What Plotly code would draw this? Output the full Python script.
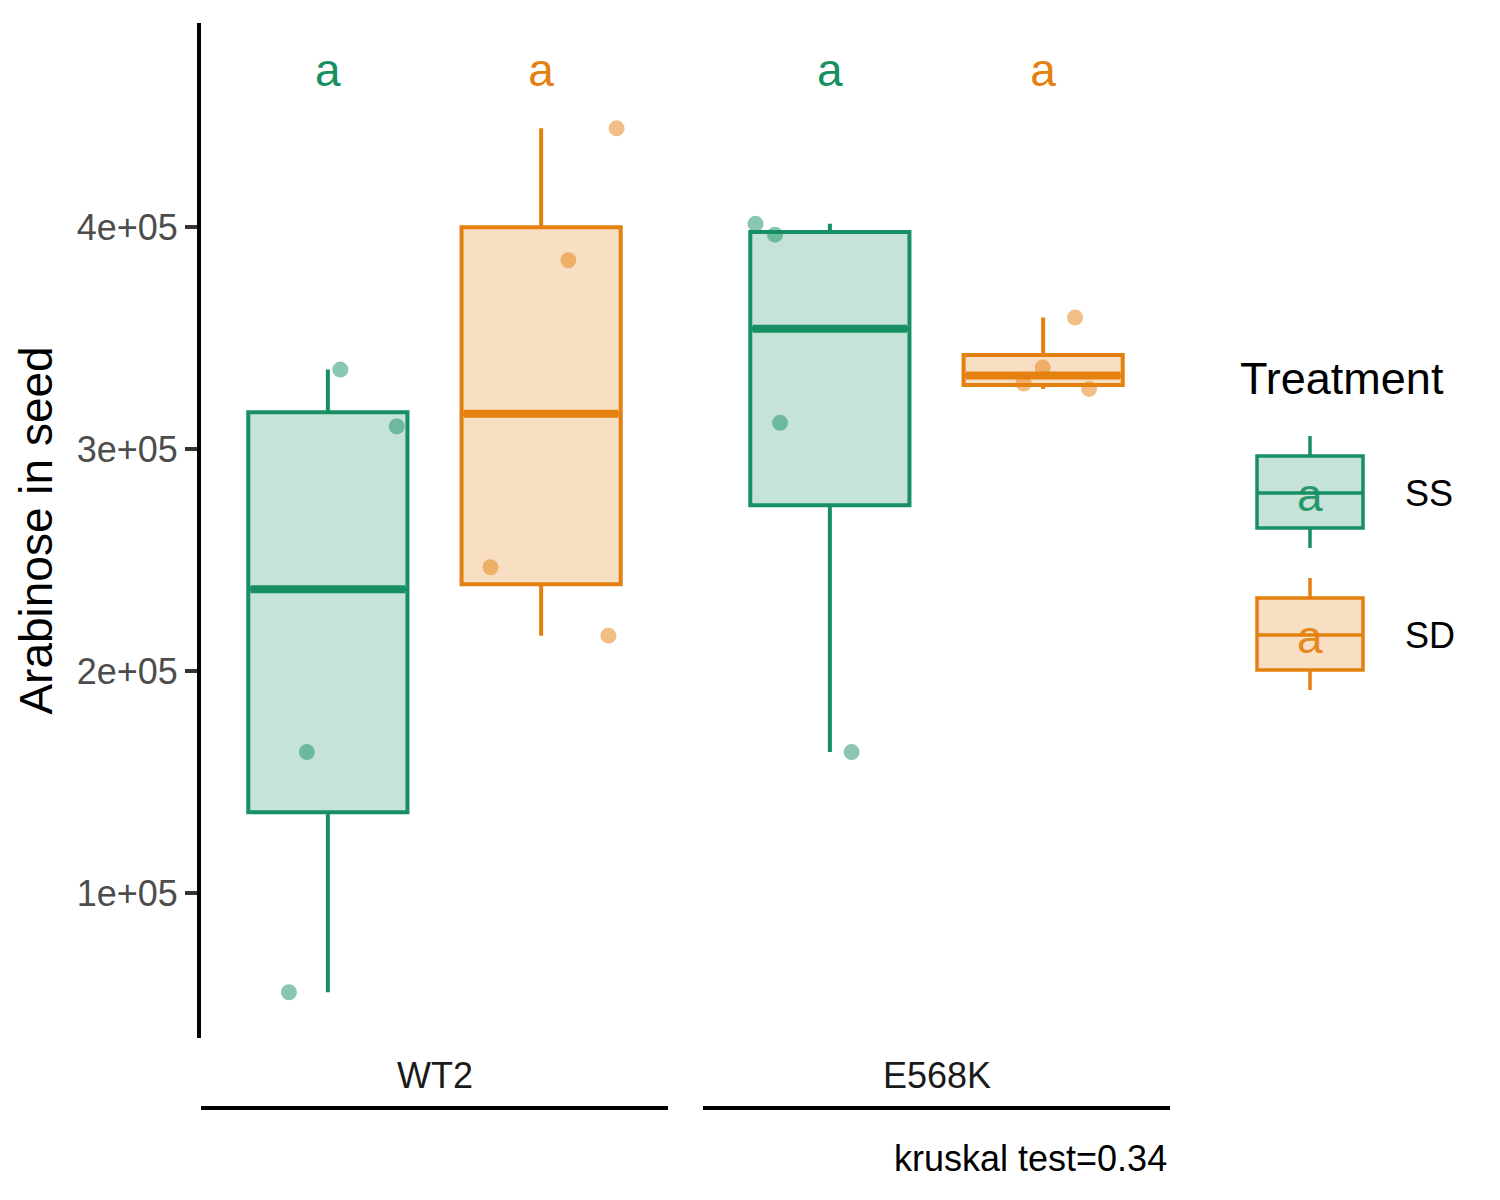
## Boxplot de arabinosa por genotipo y tratamiento (estilo ggplot con facetas abajo)
import numpy as np
import plotly.graph_objects as go

## Datos
genotypes = ["WT2", "E568K"]
treatments = ["SS", "SD"]

wt2_ss = [335800, 310200, 163600, 55500]
wt2_sd = [444400, 385000, 246800, 216000]
e568k_ss = [401400, 396500, 311800, 163600]
e568k_sd = [359200, 336700, 329500, 327100]

# desplazamiento horizontal (jitter) de cada punto, en unidades del eje x
wt2_ss_jit = [0.032, 0.177, -0.054, -0.100]
wt2_sd_jit = [0.194, 0.070, -0.130, 0.173]
e568k_ss_jit = [-0.191, -0.141, -0.128, 0.056]
e568k_sd_jit = [0.082, -0.001, -0.050, 0.118]

letters_wt2 = ["a", "a"]
letters_e568k = ["a", "a"]
letter_y = 468500

y_tickvals = [100000, 200000, 300000, 400000]
y_ticktext = ["1e+05", "2e+05", "3e+05", "4e+05"]
y_title = "Arabinose in seed"
legend_title = "Treatment"
caption = "kruskal test=0.34"

## Estilo
FONT = "Arial, Liberation Sans, sans-serif"
colors = {"SS": "#168F62", "SD": "#E3800E"}
fills = {"SS": "rgba(22,143,98,0.25)", "SD": "rgba(227,128,14,0.25)"}
dodge = {"SS": -0.274, "SD": 0.274}
box_w = 0.409

# la pagina html deja 8px de margen alrededor de la figura
OFF = 8
# geometria en pixeles del area de graficos (para las formas de leyenda / tiras)
L, R, T, B = 201 - OFF, 1170 - OFF, 23 - OFF, 1038 - OFF
W, H = R - L, B - T


def px_x(px):
    return (px - OFF - L) / W


def px_y(py):
    return (B - (py - OFF)) / H


def stats(v):
    v = np.array(v, dtype=float)
    q1, med, q3 = np.percentile(v, [25, 50, 75])
    iqr = q3 - q1
    lo = v[v >= q1 - 1.5 * iqr].min()
    hi = v[v <= q3 + 1.5 * iqr].max()
    return q1, med, q3, lo, hi


fig = go.Figure()

panels = [
    ("x", "y", {"SS": (wt2_ss, wt2_ss_jit), "SD": (wt2_sd, wt2_sd_jit)}, letters_wt2),
    ("x2", "y2", {"SS": (e568k_ss, e568k_ss_jit), "SD": (e568k_sd, e568k_sd_jit)}, letters_e568k),
]

for xa, ya, groups, letters in panels:
    for i, tr in enumerate(treatments):
        vals, jit = groups[tr]
        q1, med, q3, lo, hi = stats(vals)
        pos = dodge[tr]
        fig.add_trace(go.Box(
            x=[pos], q1=[q1], median=[med], q3=[q3],
            lowerfence=[lo], upperfence=[hi],
            width=box_w, whiskerwidth=0,
            line=dict(color=colors[tr], width=4),
            fillcolor=fills[tr], boxpoints=False,
            xaxis=xa, yaxis=ya, showlegend=False, hoverinfo="skip",
        ))
        # linea de mediana mas gruesa (como ggplot)
        fig.add_trace(go.Scatter(
            x=[pos - box_w / 2 + 0.006, pos + box_w / 2 - 0.006], y=[med, med],
            mode="lines", line=dict(color=colors[tr], width=8),
            xaxis=xa, yaxis=ya, showlegend=False, hoverinfo="skip",
        ))
        # puntos con jitter
        fig.add_trace(go.Scatter(
            x=[pos + j for j in jit], y=vals, mode="markers",
            marker=dict(color=colors[tr], size=16, opacity=0.5, line=dict(width=0)),
            xaxis=xa, yaxis=ya, showlegend=False,
        ))
        # letras de significancia
        fig.add_trace(go.Scatter(
            x=[pos], y=[letter_y], mode="text", text=[letters[i]],
            textposition="middle center",
            textfont=dict(family=FONT, size=46, color=colors[tr]),
            xaxis=xa, yaxis=ya, showlegend=False, hoverinfo="skip",
        ))

## Ejes
xstyle = dict(range=[-0.6, 0.6], visible=False, showgrid=False, zeroline=False)
fig.update_layout(
    xaxis=dict(domain=[0, px_x(668)], **xstyle),
    xaxis2=dict(domain=[px_x(703), 1], anchor="y2", **xstyle),
    yaxis=dict(
        range=[34900, 491800], showgrid=False, zeroline=False,
        showline=True, linewidth=4, linecolor="black",
        ticks="outside", ticklen=12, tickwidth=4, tickcolor="#333333",
        tickvals=y_tickvals, ticktext=y_ticktext, ticklabelstandoff=0,
        tickfont=dict(family=FONT, size=36, color="#4D4D4D"),
        title=dict(text=y_title, font=dict(family=FONT, size=46, color="black"), standoff=11),
    ),
    yaxis2=dict(matches="y", anchor="x2", visible=False, showgrid=False, zeroline=False),
)

## Tiras de facetas abajo (etiqueta + linea)
annotations = []
shapes = []
for xa, name in zip(["x", "x2"], genotypes):
    annotations.append(dict(
        text=name, xref=f"{xa} domain", yref="paper", x=0.5, y=px_y(1075),
        xanchor="center", yanchor="middle", showarrow=False,
        font=dict(family=FONT, size=36, color="#1A1A1A"),
    ))
    shapes.append(dict(
        type="line", xref=f"{xa} domain", yref="paper", x0=0, x1=1,
        y0=px_y(1108), y1=px_y(1108), line=dict(color="black", width=4),
    ))

annotations.append(dict(
    text=caption, xref="paper", yref="paper", x=px_x(1169), y=px_y(1158),
    xanchor="right", yanchor="middle", showarrow=False,
    font=dict(family=FONT, size=36, color="black"),
))

## Leyenda dibujada a mano (claves tipo caja con "a")
annotations.append(dict(
    text=legend_title, xref="paper", yref="paper", x=px_x(1238), y=px_y(379),
    xanchor="left", yanchor="middle", showarrow=False,
    font=dict(family=FONT, size=45, color="black"),
))
key_x0, key_x1, key_cx = px_x(1257), px_x(1363), px_x(1310)
for tr, top in zip(treatments, [456, 598]):
    bot, mid = top + 72, top + 37
    shapes.append(dict(type="rect", xref="paper", yref="paper",
                       x0=key_x0, x1=key_x1, y0=px_y(bot), y1=px_y(top),
                       line=dict(color=colors[tr], width=3.5), fillcolor=fills[tr]))
    shapes.append(dict(type="line", xref="paper", yref="paper",
                       x0=key_x0, x1=key_x1, y0=px_y(mid), y1=px_y(mid),
                       line=dict(color=colors[tr], width=3.5)))
    shapes.append(dict(type="line", xref="paper", yref="paper",
                       x0=key_cx, x1=key_cx, y0=px_y(top - 20), y1=px_y(top),
                       line=dict(color=colors[tr], width=3.5)))
    shapes.append(dict(type="line", xref="paper", yref="paper",
                       x0=key_cx, x1=key_cx, y0=px_y(bot), y1=px_y(bot + 20),
                       line=dict(color=colors[tr], width=3.5)))
    annotations.append(dict(
        text="a", xref="paper", yref="paper", x=key_cx, y=px_y(mid + 2),
        xanchor="center", yanchor="middle", showarrow=False,
        font=dict(family=FONT, size=46, color=colors[tr]), opacity=0.9,
    ))
    annotations.append(dict(
        text=tr, xref="paper", yref="paper", x=px_x(1403), y=px_y(mid),
        xanchor="left", yanchor="middle", showarrow=False,
        font=dict(family=FONT, size=36, color="black"),
    ))

fig.update_layout(
    width=1500, height=1200,
    margin=dict(l=L, r=1500 - R, t=T, b=1200 - B, autoexpand=False),
    paper_bgcolor="white", plot_bgcolor="white",
    showlegend=False,
    annotations=annotations, shapes=shapes,
    font=dict(family=FONT),
)

fig.write_html("out.html")
